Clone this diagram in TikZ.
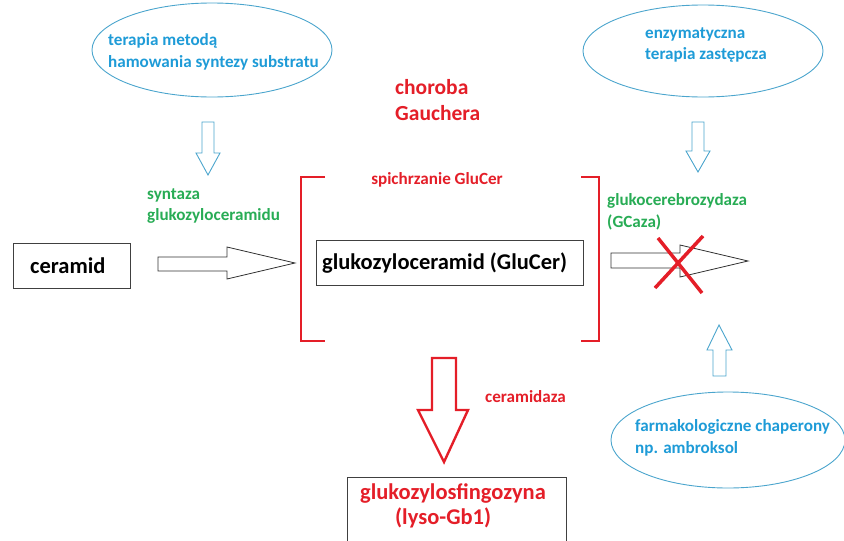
\documentclass[tikz,border=0pt]{standalone}
\usepackage{fontspec}
\setmainfont{Carlito}
\usetikzlibrary{shapes.geometric}
\definecolor{tblue}{RGB}{30,155,215}
\definecolor{eblue}{RGB}{75,165,205}
\definecolor{tgreen}{RGB}{40,172,85}
\definecolor{tred}{RGB}{228,30,40}
\begin{document}
\begin{tikzpicture}[x=1pt,y=-1pt,
  lbl/.style={font=\bfseries\fontsize{17.1}{21.5}\selectfont, align=left, inner sep=0pt, anchor=west},
  big/.style={font=\bfseries\fontsize{22.5}{25}\selectfont, align=left, inner sep=0pt, anchor=west},
  ell/.style={draw=eblue, line width=0.9pt},
  blk/.style={draw=black!75, line width=0.8pt},
  barrow/.style={draw=eblue, line width=0.9pt},
  karrow/.style={draw=black!80, line width=0.8pt},
  brk/.style={draw=tred, line width=2.6pt}]
\useasboundingbox (0,0) rectangle (844,541);
% ellipses
\draw[ell] (212,50) ellipse [x radius=120, y radius=47];
\draw[ell] (703,51) ellipse [x radius=120, y radius=46];
\draw[ell] (728,440) ellipse [x radius=117, y radius=48];
\node[lbl, text=tblue] (t1) at (108,52) {terapia metodą\\hamowania syntezy substratu};
\node[lbl, text=tblue] (t2) at (645,45) {enzymatyczna\\terapia zastępcza};
\node[lbl, text=tblue] (t3) at (635,438) {farmakologiczne chaperony\\np. ambroksol};
\node[font=\bfseries\fontsize{21.5}{26}\selectfont, align=left, inner sep=0pt, anchor=west, text=tred] (gau) at (395,100) {choroba\\Gauchera};
% blue hollow arrows
\draw[barrow] (202,122) -- (214,122) -- (214,153) -- (220,153) -- (208,175) -- (196,153) -- (202,153) -- cycle;
\draw[barrow] (692,122) -- (704,122) -- (704,151) -- (710,151) -- (698,172) -- (686,151) -- (692,151) -- cycle;
\draw[barrow] (713,376) -- (726,376) -- (726,350) -- (732,350) -- (719,325) -- (707,350) -- (713,350) -- cycle;
% green labels
\node[lbl, text=tgreen] (syn) at (147,206) {syntaza\\glukozyloceramidu};
\node[lbl, text=tgreen] (gca) at (607,212) {glukocerebrozydaza\\(GCaza)};
% ceramid box
\draw[blk] (13,243) rectangle (130,288);
\node[big] (cer) at (30,266) {ceramid};
% arrow ceramid -> GluCer
\draw[karrow] (158,257) -- (227,257) -- (227,247) -- (295,263) -- (227,279) -- (227,271) -- (158,271) -- cycle;
% brackets
\draw[brk] (325,177) -- (301,177) -- (301,341) -- (325,341);
\draw[brk] (581,177) -- (599,177) -- (599,341) -- (581,341);
\node[lbl, anchor=center, text=tred] (sp) at (437,180) {spichrzanie GluCer};
% GluCer box
\draw[blk] (316,240) rectangle (583,285);
\node[big] (glu) at (322,263) {glukozyloceramid (GluCer)};
% crossed arrow
\draw[karrow] (611,253) -- (680,253) -- (680,245) -- (748,261) -- (680,277) -- (680,268) -- (611,268) -- cycle;
\draw[draw=tred, line width=3.5pt] (658,238) -- (702,293);
\draw[draw=tred, line width=3.5pt] (703,236) -- (655,288);
% red down arrow
\draw[draw=tred, line width=2.4pt, line join=miter] (432,358) -- (456,358) -- (456,410) -- (468,410) -- (444,462) -- (418,410) -- (432,410) -- cycle;
\node[lbl, text=tred] (cd) at (485,397) {ceramidaza};
% bottom box
\draw[blk] (347,545) -- (347,477) -- (566,477) -- (566,545);
\node[big, text=tred] (lyso1) at (360,493) {glukozylosfingozyna};
\node[big, text=tred] (lyso2) at (395,518) {(lyso-Gb1)};
\end{tikzpicture}
\end{document}
